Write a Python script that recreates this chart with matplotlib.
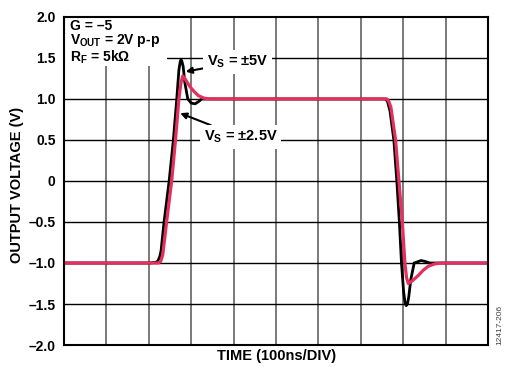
import matplotlib
matplotlib.use("Agg")
import matplotlib.pyplot as plt
from matplotlib.patches import Rectangle

plt.rcParams['font.family'] = ['Liberation Sans', 'DejaVu Sans']
plt.rcParams['font.weight'] = 'bold'
plt.rcParams['mathtext.fontset'] = 'custom'
plt.rcParams['mathtext.rm'] = 'Liberation Sans:bold'
plt.rcParams['mathtext.it'] = 'Liberation Sans:bold'
plt.rcParams['mathtext.bf'] = 'Liberation Sans:bold'

# time in divisions (100ns/DIV), output in volts
t_5v = [0.0, 2.03, 2.18, 2.22, 2.26, 2.29, 2.36, 2.48, 2.58, 2.66, 2.71, 2.74, 2.76,
        2.78, 2.81, 2.85, 2.92, 3.00, 3.09, 3.18, 3.25, 3.44,
        7.22, 7.58, 7.63, 7.69, 7.78, 7.85, 7.91, 7.96, 8.01, 8.04, 8.07, 8.10,
        8.13, 8.18, 8.26, 8.32, 8.42, 8.51, 8.63, 10.0]
v_5v = [-1.0, -1.0, -0.99, -0.97, -0.92, -0.85, -0.5, 0.0, 0.5, 1.0, 1.35, 1.45, 1.48,
        1.46, 1.40, 1.20, 1.0, 0.95, 0.94, 0.97, 1.0, 1.0,
        1.0, 1.0, 0.97, 0.85, 0.5, 0.0, -0.5, -1.0, -1.35, -1.47, -1.52, -1.50,
        -1.42, -1.2, -1.0, -0.99, -0.97, -0.98, -1.0, -1.0]

t_25v = [0.0, 2.23, 2.28, 2.33, 2.42, 2.54, 2.63, 2.71, 2.76, 2.80, 2.85, 2.97, 3.07,
         3.17, 3.30, 3.44,
         7.22, 7.62, 7.66, 7.71, 7.82, 7.90, 7.98, 8.04, 8.08, 8.12, 8.21, 8.36, 8.47,
         8.59, 8.75, 8.92, 10.0]
v_25v = [-1.0, -1.0, -0.98, -0.9, -0.5, 0.0, 0.5, 1.0, 1.2, 1.28, 1.25, 1.15, 1.09,
         1.04, 1.01, 1.0,
         1.0, 1.0, 0.97, 0.9, 0.5, 0.0, -0.5, -1.0, -1.18, -1.25, -1.22, -1.15, -1.09,
         -1.04, -1.01, -1.0, -1.0]

y_ticks = [2.0, 1.5, 1.0, 0.5, 0.0, -0.5, -1.0, -1.5, -2.0]
y_labels = ['2.0', '1.5', '1.0', '0.5', '0', '–0.5', '–1.0', '–1.5', '–2.0']

fig = plt.figure(figsize=(5.09, 3.67), dpi=100)
ax = fig.add_axes([0.1257, 0.0599, 0.833, 0.894])

ax.set_xlim(0, 10)
ax.set_ylim(-2, 2)
ax.set_xticks(range(0, 11))
ax.set_xticklabels([])
ax.set_yticks(y_ticks)
ax.set_yticklabels(y_labels, fontsize=10, fontweight='bold')
ax.tick_params(length=0, pad=6)

# grid: vertical lines grey, horizontal black
for x in range(1, 10):
    ax.axvline(x, color='#555555', lw=1.1, zorder=1)
for y in y_ticks[1:-1]:
    ax.axhline(y, color='black', lw=1.0, zorder=1)
for s in ax.spines.values():
    s.set_linewidth(1.5)
    s.set_zorder(5)

ax.plot(t_5v, v_5v, color='black', lw=2.0, zorder=3, solid_joinstyle='round')
ax.plot(t_25v, v_25v, color='#E3305F', lw=2.3, zorder=4, solid_joinstyle='round')

# condition block in the corner
ax.add_patch(Rectangle((0, 1.40), 2.43, 0.6, facecolor='white', edgecolor='none', zorder=2))
ax.text(0.14, 1.975, 'G = –5\nV$_\\mathrm{OUT}$ = 2V p-p\nR$_\\mathrm{F}$ = 5k\u03a9',
        fontsize=10, va='top', ha='left', linespacing=0.95, zorder=6)

box = dict(facecolor='white', edgecolor='none', pad=2.5)
ax.annotate('V$_\\mathrm{S}$ = ±5V', xy=(2.87, 1.333), xytext=(3.37, 1.45),
            fontsize=10.5, va='center', ha='left', bbox=box, zorder=6,
            arrowprops=dict(arrowstyle='-|>', color='black', lw=1.5,
                            mutation_scale=9, shrinkA=0, shrinkB=0))
ax.annotate('V$_\\mathrm{S}$ = ±2.5V', xy=(2.74, 0.826), xytext=(3.30, 0.537),
            fontsize=10.5, va='center', ha='left', bbox=box, zorder=6,
            arrowprops=dict(arrowstyle='-|>', color='black', lw=1.5,
                            mutation_scale=9, shrinkA=0, shrinkB=0))

fig.text(17 / 509, 1 - 185 / 367, 'OUTPUT VOLTAGE (V)', rotation=90, fontsize=10.5,
         fontweight='bold', ha='center', va='center')
fig.text(277 / 509, 1 - 356 / 367, 'TIME (100ns/DIV)', fontsize=10.5,
         fontweight='bold', ha='center', va='center')

fig.text(0.982, 0.06, '12417-206', rotation=90, fontsize=6, fontweight='normal',
         color='#444444', ha='center', va='bottom')

fig.savefig('out.png', dpi=100)
